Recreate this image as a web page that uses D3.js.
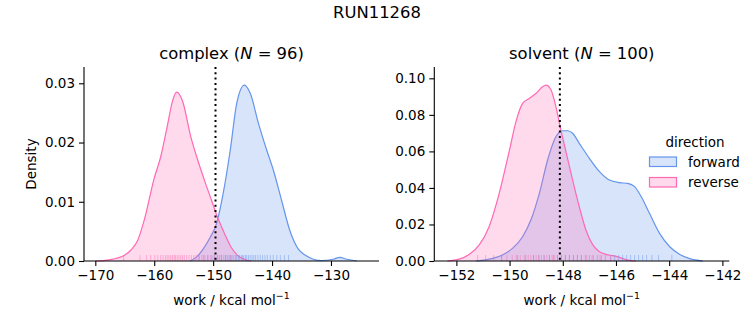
<!DOCTYPE html>
<html><head><meta charset="utf-8">
<script src="https://cdn.jsdelivr.net/npm/d3@7"></script>
<style>body{margin:0;background:#fff}svg{font-family:"DejaVu Sans",sans-serif}</style>
</head><body>
<svg id="c" width="753" height="325"></svg>
<script>
// ---------- data ----------
const suptitle = "RUN11268";
const directions = ["forward", "reverse"];
const colors = {forward: "#6495ED", reverse: "#FF69B4"};

// complex: density curves
const complexForwardX = [-153.9,-152.8,-151.7,-150.5,-149.4,-148.3,-147.1,-146.0,-144.7,-143.7,-142.3,-140.9,-139.8,-138.4,-137.0,-135.6,-134.4,-133.0,-131.6,-129.6,-128.5,-127.3,-125.6];
const complexForwardY = [0,0.0007,0.002,0.004,0.0064,0.0114,0.0187,0.0266,0.0297,0.0283,0.0232,0.0187,0.0154,0.0103,0.0052,0.0021,0.001,0.0003,0.00005,0.0003,0.0006,0.0003,0];
const complexReverseX = [-170.0,-167.6,-165.0,-163.9,-162.8,-161.7,-160.0,-158.9,-157.8,-156.9,-156.2,-155.2,-153.8,-152.7,-151.5,-150.4,-149.3,-148.1,-147.0,-145.9,-144.7,-143.6];
const complexReverseY = [0,0.0002,0.001,0.0019,0.0035,0.0069,0.014,0.0176,0.0227,0.027,0.0285,0.027,0.021,0.0173,0.0137,0.0106,0.0075,0.0047,0.0024,0.001,0.0003,0];
// complex: individual work values (rug)
const complexForwardRug = [-152.4,-151.6,-150.9,-150.2,-149.8,-149.3,-148.9,-148.6,-148.2,-147.9,-147.6,-147.3,-147.0,-146.8,-146.5,-146.2,-146.0,-145.7,-145.5,-145.2,-145.0,-144.8,-144.5,-144.3,-144.0,-143.7,-143.4,-143.1,-142.8,-142.4,-142.0,-141.6,-141.2,-140.8,-140.3,-139.8,-139.2,-138.6,-137.9,-137.2];
const complexReverseRug = [-165.2,-162.4,-161.3,-160.6,-159.9,-159.4,-158.9,-158.5,-158.1,-157.8,-157.5,-157.2,-156.9,-156.6,-156.4,-156.1,-155.8,-155.5,-155.2,-154.9,-154.5,-154.1,-153.7,-153.3,-152.9,-152.4,-151.9,-151.4,-150.9,-150.4,-149.8,-149.2,-148.6,-147.9,-147.1];
const complexVline = -149.6;

// solvent: density curves
const solventForwardX = [-151.27,-150.77,-150.27,-149.89,-149.51,-149.2,-148.88,-148.57,-148.26,-148.0,-147.82,-147.63,-147.38,-147.0,-146.62,-146.25,-145.87,-145.56,-145.3,-145.05,-144.74,-144.36,-143.98,-143.6,-143.23,-142.73];
const solventForwardY = [0,0.001,0.0033,0.0069,0.0133,0.0224,0.037,0.0553,0.068,0.0713,0.0713,0.0699,0.0644,0.0562,0.0489,0.0443,0.0429,0.0425,0.0407,0.0352,0.0261,0.0151,0.0078,0.0036,0.0013,0];
const solventReverseX = [-152.34,-151.9,-151.52,-151.14,-150.77,-150.39,-150.0,-149.76,-149.51,-149.26,-149.0,-148.76,-148.63,-148.44,-148.26,-148.07,-147.88,-147.63,-147.38,-147.13,-146.87,-146.62,-146.37,-146.12,-145.87,-145.56,-145.24];
const solventReverseY = [0,0.001,0.0036,0.0088,0.0188,0.037,0.061,0.0763,0.0863,0.089,0.0918,0.0954,0.0963,0.0936,0.0845,0.0717,0.0598,0.0443,0.0297,0.017,0.0088,0.0051,0.0036,0.0029,0.002,0.0005,0];
// solvent: individual work values (rug)
const solventForwardRug = [-150.3,-149.7,-149.4,-149.1,-148.9,-148.7,-148.5,-148.35,-148.2,-148.05,-147.9,-147.75,-147.6,-147.45,-147.3,-147.15,-147.0,-146.85,-146.7,-146.55,-146.4,-146.2,-146.05,-145.9,-145.75,-145.6,-145.45,-145.3,-145.15,-145.0,-144.85,-144.65,-144.4,-143.9];
const solventReverseRug = [-151.2,-150.9,-150.6,-150.3,-150.1,-149.9,-149.75,-149.6,-149.45,-149.3,-149.2,-149.1,-149.0,-148.9,-148.8,-148.7,-148.6,-148.5,-148.4,-148.3,-148.2,-148.05,-147.9,-147.75,-147.6,-147.45,-147.3,-147.1,-146.9,-146.6,-146.2];
const solventVline = -148.11;

const complexTicksX = [-170,-160,-150,-140,-130];
const complexTicksY = [0,0.01,0.02,0.03];
const solventTicksX = [-152,-150,-148,-146,-144,-142];
const solventTicksY = [0,0.02,0.04,0.06,0.08,0.10];

// ---------- drawing ----------
const svg = d3.select("#c");
const FS = 13.5;
svg.append("text").attr("x", 377).attr("y", 18).attr("text-anchor","middle")
  .attr("font-size", 16.4).text(suptitle);

function panel(cfg){
  const x = d3.scaleLinear().domain(cfg.xd).range([cfg.x0, cfg.x1]);
  const y = d3.scaleLinear().domain(cfg.yd).range([261, 67]);
  const g = svg.append("g");
  const area = d3.area().curve(d3.curveMonotoneX).x(d=>x(d[0])).y0(y(0)).y1(d=>y(d[1]));
  const line = d3.line().curve(d3.curveMonotoneX).x(d=>x(d[0])).y(d=>y(d[1]));
  cfg.series.forEach(s=>{
    const pts = s.xs.map((v,i)=>[v, s.ys[i]]);
    g.append("path").attr("d", area(pts)).attr("fill", colors[s.dir]).attr("fill-opacity", 0.25);
    g.append("path").attr("d", line(pts)).attr("fill","none").attr("stroke", colors[s.dir]).attr("stroke-width", 1.2);
  });
  cfg.series.forEach(s=>{
    g.selectAll(null).data(s.rug).enter().append("line")
      .attr("x1", d=>x(d)).attr("x2", d=>x(d)).attr("y1", 261).attr("y2", 255)
      .attr("stroke", colors[s.dir]).attr("stroke-opacity", 0.45).attr("stroke-width", 1);
  });
  g.append("line").attr("x1", x(cfg.vline)).attr("x2", x(cfg.vline)).attr("y1", 67).attr("y2", 261)
    .attr("stroke","#000").attr("stroke-width", 2).attr("stroke-dasharray","2,3.3");
  const xa = g.append("g").attr("transform","translate(0,261)")
    .call(d3.axisBottom(x).tickValues(cfg.tx).tickSize(5).tickPadding(4).tickFormat(d=>d3.format("d")(d).replace("-","\u2212")));
  const ya = g.append("g").attr("transform",`translate(${cfg.x0},0)`)
    .call(d3.axisLeft(y).tickValues(cfg.ty).tickSize(5).tickPadding(4).tickFormat(d3.format(".2f")));
  [xa, ya].forEach(a=>{
    a.selectAll("text").attr("font-size", FS).attr("font-family","DejaVu Sans").attr("fill","#000");
    a.selectAll("line").attr("stroke","#000").attr("stroke-width",1.1);
    a.select(".domain").attr("stroke","#000").attr("stroke-width",1.1).attr("d",
      a === xa ? `M${cfg.x0},0H${cfg.x1}` : `M0,261V67`);
  });
  const t = svg.append("text").attr("x", (cfg.x0+cfg.x1)/2).attr("y", 59).attr("text-anchor","middle").attr("font-size", 16.4);
  t.append("tspan").text(cfg.name + " (");
  t.append("tspan").attr("font-style","italic").text("N");
  t.append("tspan").text(" = " + cfg.n + ")");
  const xl = svg.append("text").attr("x", (cfg.x0+cfg.x1)/2).attr("y", 305).attr("text-anchor","middle").attr("font-size", FS);
  xl.append("tspan").text("work / kcal mol");
  xl.append("tspan").attr("font-size", FS*0.7).attr("dy", -6).text("\u22121");
}

panel({name:"complex", n:96, xd:[-171.92,-121.85], yd:[0,0.03275], x0:84, x1:379,
  tx:complexTicksX, ty:complexTicksY, vline:complexVline,
  series:[{dir:"forward", xs:complexForwardX, ys:complexForwardY, rug:complexForwardRug},
          {dir:"reverse", xs:complexReverseX, ys:complexReverseY, rug:complexReverseRug}]});
panel({name:"solvent", n:100, xd:[-152.83,-141.74], yd:[0,0.1062], x0:434.3, x1:729.3,
  tx:solventTicksX, ty:solventTicksY, vline:solventVline,
  series:[{dir:"forward", xs:solventForwardX, ys:solventForwardY, rug:solventForwardRug},
          {dir:"reverse", xs:solventReverseX, ys:solventReverseY, rug:solventReverseRug}]});

svg.append("text").attr("x", 31).attr("y", 164).attr("text-anchor","middle").attr("font-size", FS)
  .attr("transform","rotate(-90,31,164)").attr("dy","0.35em").text("Density");

// legend
const lg = svg.append("g");
lg.append("text").attr("x", 695).attr("y", 147).attr("text-anchor","middle").attr("font-size", FS).text("direction");
directions.forEach((d,i)=>{
  const yy = 157 + i*20.5;
  lg.append("rect").attr("x", 649.5).attr("y", yy).attr("width", 27).attr("height", 9.5)
    .attr("fill", colors[d]).attr("fill-opacity", 0.25).attr("stroke", colors[d]).attr("stroke-width", 1.2);
  lg.append("text").attr("x", 688).attr("y", yy + 9.5).attr("font-size", FS).text(d);
});
</script>
</body></html>
